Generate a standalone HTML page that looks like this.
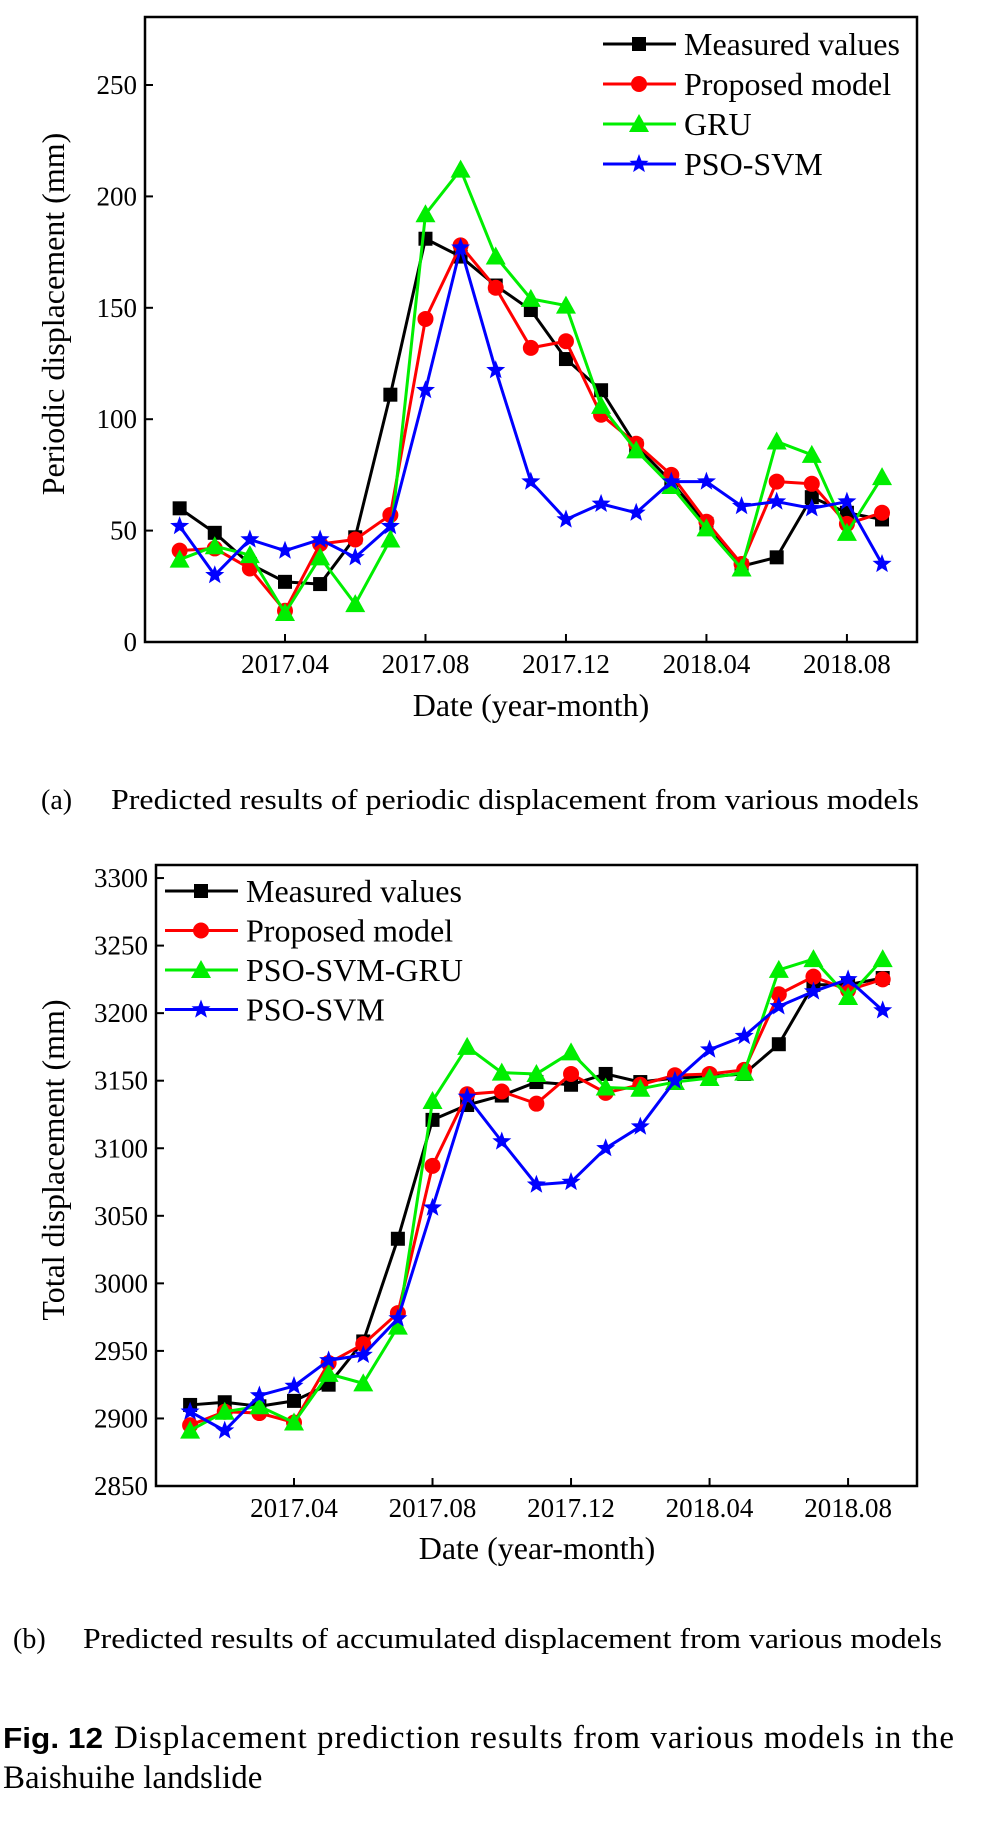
<!DOCTYPE html>
<html><head><meta charset="utf-8"><style>
body{margin:0;background:#fff;}
svg{display:block;}
text{font-family:"Liberation Serif",serif;fill:#000;}
</style></head><body>
<svg id="s" width="990" height="1823" viewBox="0 0 990 1823">
<text x="41" y="809" font-size="28">(a)</text>
<text x="111" y="809" font-size="28" textLength="808" lengthAdjust="spacingAndGlyphs">Predicted results of periodic displacement from various models</text>
<text x="13" y="1648" font-size="28">(b)</text>
<text x="83" y="1648" font-size="28" textLength="859" lengthAdjust="spacingAndGlyphs">Predicted results of accumulated displacement from various models</text>
<text x="3" y="1748" font-size="29" font-weight="bold" style="font-family:'Liberation Sans',sans-serif" textLength="100" lengthAdjust="spacingAndGlyphs">Fig. 12</text>
<text x="114" y="1748" font-size="33" textLength="840" lengthAdjust="spacing">Displacement prediction results from various models in the</text>
<text x="3" y="1788" font-size="33">Baishuihe landslide</text>
</svg>
<script>
const months=["2017.01","2017.02","2017.03","2017.04","2017.05","2017.06","2017.07","2017.08","2017.09","2017.10","2017.11","2017.12","2018.01","2018.02","2018.03","2018.04","2018.05","2018.06","2018.07","2018.08","2018.09"];
const xTickLabels=["2017.04","2017.08","2017.12","2018.04","2018.08"];
const aMeasured=[60,49,35,27,26,47,111,181,173,160,149,127,113,88,72,53,34,38,65,58,55];
const aProposed=[41,42,33,14,44,46,57,145,178,159,132,135,102,89,75,54,35,72,71,53,58];
const aGRU=[37,43,39,13,38,17,46,192,212,173,154,151,106,86,70,51,33,90,84,49,74];
const aPSO=[52,30,46,41,46,38,52,113,177,122,72,55,62,58,72,72,61,63,60,63,35];
const aYTicks=[0,50,100,150,200,250];
const bMeasured=[2910,2912,2909,2913,2925,2957,3033,3121,3132,3139,3149,3147,3155,3149,3152,3153,3155,3177,3221,3221,3226];
const bProposed=[2895,2905,2904,2897,2941,2955,2978,3087,3140,3142,3133,3155,3141,3147,3154,3155,3158,3214,3227,3217,3225];
const bGRU=[2891,2905,2909,2897,2933,2926,2968,3135,3175,3156,3155,3171,3145,3144,3149,3152,3156,3232,3240,3212,3240];
const bPSO=[2905,2891,2917,2924,2943,2947,2974,3056,3138,3105,3073,3075,3100,3116,3150,3173,3183,3205,3216,3225,3202];
const bYTicks=[2850,2900,2950,3000,3050,3100,3150,3200,3250,3300];

const NS="http://www.w3.org/2000/svg";
const svg=document.getElementById('s');
function mk(tag,attrs,parent){const e=document.createElementNS(NS,tag);for(const k in attrs)e.setAttribute(k,attrs[k]);(parent||svg).appendChild(e);return e;}
function marker(g,type,x,y,color){
  let e;
  if(type==='sq'){e=mk('rect',{x:x-7,y:y-7,width:14,height:14,fill:color},g);}
  else if(type==='ci'){e=mk('circle',{cx:x,cy:y,r:8,fill:color},g);}
  else if(type==='tr'){e=mk('polygon',{points:`${x},${y-10} ${x+10},${y+8} ${x-10},${y+8}`,fill:color},g);}
  else {let p=[];for(let i=0;i<10;i++){const r=i%2?4.2:10;const a=-Math.PI/2+i*Math.PI/5;p.push((x+r*Math.cos(a)).toFixed(1)+','+(y+r*Math.sin(a)).toFixed(1));}
    e=mk('polygon',{points:p.join(' '),fill:color},g);}
  
  
}
function chart(cfg){
  const g=mk('g',{});
  
  
  const X=i=>cfg.x0+(i-3)*cfg.dx;
  const Y=v=>cfg.yb-(v-cfg.vmin)*cfg.ky;
  cfg.yticks.forEach(t=>{
    const l=mk('line',{x1:cfg.L,x2:cfg.L+8,y1:Y(t),y2:Y(t),stroke:'#000','stroke-width':2},g);
    
    
    const tx=mk('text',{x:cfg.L-8,y:Y(t)+9,'font-size':27,'text-anchor':'end'},g);tx.textContent=t;
    
    
  });
  xTickLabels.forEach(lab=>{
    const i=months.indexOf(lab);
    const l=mk('line',{x1:X(i),x2:X(i),y1:cfg.yb,y2:cfg.yb-8,stroke:'#000','stroke-width':2},g);
    
    
    const tx=mk('text',{x:X(i),y:cfg.yb+31,'font-size':27,'text-anchor':'middle'},g);tx.textContent=lab;
    
    
  });
  cfg.series.forEach(s=>{
    const sg=mk('g',{},g);
    
    
    mk('polyline',{points:s.data.map((v,i)=>X(i)+','+Y(v)).join(' '),fill:'none',stroke:s.color,'stroke-width':3},sg);
    s.data.forEach((v,i)=>marker(sg,s.m,X(i),Y(v),s.color));
  });
  const fr=mk('rect',{x:cfg.L,y:cfg.T,width:cfg.R-cfg.L,height:cfg.yb-cfg.T,fill:'none',stroke:'#000','stroke-width':2.5},g);
  
  
  const lg=mk('g',{},g);
  
  
  cfg.series.forEach((s,k)=>{
    const y=cfg.lgY+k*cfg.lgDy;
    const eg=mk('g',{},lg);
    
    
    mk('line',{x1:cfg.lgX,x2:cfg.lgX+73,y1:y,y2:y,stroke:s.color,'stroke-width':3},eg);
    marker(eg,s.m,cfg.lgX+36,y,s.color);
    const tx=mk('text',{x:cfg.lgX+81,y:y+11,'font-size':32},eg);tx.textContent=s.label;
  });
  const xt=mk('text',{x:cfg.xtX,y:cfg.xtY,'font-size':32,'text-anchor':'middle'},g);xt.textContent='Date (year-month)';
  
  
  const yt=mk('text',{x:0,y:0,'font-size':32,'text-anchor':'middle',transform:`translate(${cfg.ytX},${cfg.ytY}) rotate(-90)`},g);yt.textContent=cfg.ytitle;
  
  
}
chart({name:'chart-periodic',L:145,R:917,T:17,yb:642,vmin:0,ky:2.228,x0:285,dx:35.12,yticks:aYTicks,
  lgX:603,lgY:44,lgDy:40,xtX:531,xtY:716,ytX:64,ytY:314,ytitle:'Periodic displacement (mm)',
  series:[{name:'series-measured',label:'Measured values',data:aMeasured,color:'#000',m:'sq'},
          {name:'series-proposed',label:'Proposed model',data:aProposed,color:'#ff0000',m:'ci'},
          {name:'series-gru',label:'GRU',data:aGRU,color:'#00ee00',m:'tr'},
          {name:'series-pso-svm',label:'PSO-SVM',data:aPSO,color:'#0000ff',m:'st'}]});
chart({name:'chart-total',L:156,R:917,T:865,yb:1486,vmin:2850,ky:1.351,x0:294,dx:34.63,yticks:bYTicks,
  lgX:165,lgY:891,lgDy:39.5,xtX:537,xtY:1559,ytX:64,ytY:1160,ytitle:'Total displacement (mm)',
  series:[{name:'series-measured',label:'Measured values',data:bMeasured,color:'#000',m:'sq'},
          {name:'series-proposed',label:'Proposed model',data:bProposed,color:'#ff0000',m:'ci'},
          {name:'series-pso-svm-gru',label:'PSO-SVM-GRU',data:bGRU,color:'#00ee00',m:'tr'},
          {name:'series-pso-svm',label:'PSO-SVM',data:bPSO,color:'#0000ff',m:'st'}]});
</script>
</body></html>
